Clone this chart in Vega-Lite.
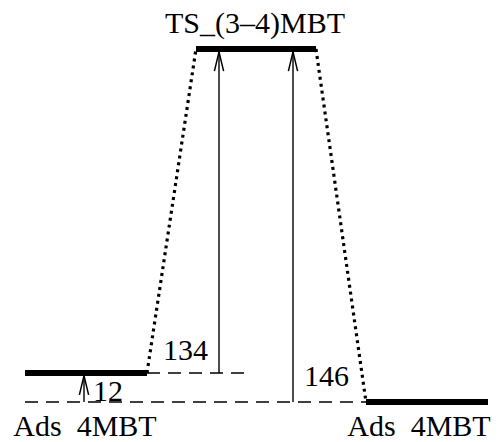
{
  "$schema": "https://vega.github.io/schema/vega-lite/v6.json",
  "width": 498,
  "height": 442,
  "autosize": {"type": "fit", "contains": "padding"},
  "padding": 0,
  "background": "white",
  "config": {"view": {"stroke": null}},
  "datasets": {
    "levels": [
      {"name": "Ads 4MBT (left)", "xs": 25, "xe": 147, "E": 12},
      {"name": "TS_(3–4)MBT", "xs": 196, "xe": 316, "E": 146},
      {"name": "Ads 4MBT (right)", "xs": 366, "xe": 488, "E": 0}
    ],
    "guides": [
      {"xs": 25, "xe": 366, "E": 0},
      {"xs": 147, "xe": 246, "E": 12}
    ],
    "connectors": [
      {"xs": 147, "Es": 12, "xe": 196, "Ee": 146},
      {"xs": 316, "Es": 146, "xe": 366, "Ee": 0}
    ],
    "arrows": [
      {"x": 84, "from": 0, "to": 12},
      {"x": 219, "from": 12, "to": 146},
      {"x": 293, "from": 0, "to": 146}
    ],
    "numbers": [
      {"text": "12", "x": 93, "E": 0.2},
      {"text": "134", "x": 163, "E": 17.2},
      {"text": "146", "x": 304, "E": 6.6}
    ],
    "names": [
      {"text": "Ads\u00a0\u00a04MBT", "x": 85, "E": -14.0},
      {"text": "Ads\u00a0\u00a04MBT", "x": 419, "E": -14.0},
      {"text": "TS_(3–4)MBT", "x": 255, "E": 152.8}
    ]
  },
  "layer": [
    {
      "data": {"name": "guides"},
      "mark": {"type": "rule", "stroke": "black", "strokeWidth": 1.5, "strokeDash": [13, 8]},
      "encoding": {
        "x": {"field": "xs", "type": "quantitative", "scale": {"domain": [0, 498], "nice": false, "zero": false}, "axis": null},
        "x2": {"field": "xe"},
        "y": {"field": "E", "type": "quantitative", "scale": {"domain": [-14.5, 166.3], "nice": false, "zero": false}, "axis": null}
      }
    },
    {
      "data": {"name": "connectors"},
      "mark": {"type": "rule", "stroke": "black", "strokeWidth": 3.2, "strokeDash": [3, 4]},
      "encoding": {
        "x": {"field": "xs", "type": "quantitative", "scale": {"domain": [0, 498], "nice": false, "zero": false}, "axis": null},
        "x2": {"field": "xe"},
        "y": {"field": "Es", "type": "quantitative", "scale": {"domain": [-14.5, 166.3], "nice": false, "zero": false}, "axis": null},
        "y2": {"field": "Ee"}
      }
    },
    {
      "data": {"name": "arrows"},
      "mark": {"type": "rule", "stroke": "black", "strokeWidth": 1.4},
      "encoding": {
        "x": {"field": "x", "type": "quantitative", "scale": {"domain": [0, 498], "nice": false, "zero": false}, "axis": null},
        "y": {"field": "from", "type": "quantitative", "scale": {"domain": [-14.5, 166.3], "nice": false, "zero": false}, "axis": null},
        "y2": {"field": "to"}
      }
    },
    {
      "data": {"name": "arrows"},
      "mark": {"type": "point", "shape": "M-0.42,2L0,0.25L0.42,2", "filled": false, "stroke": "black", "strokeWidth": 1.5, "size": 484, "opacity": 1},
      "encoding": {
        "x": {"field": "x", "type": "quantitative", "scale": {"domain": [0, 498], "nice": false, "zero": false}, "axis": null},
        "y": {"field": "to", "type": "quantitative", "scale": {"domain": [-14.5, 166.3], "nice": false, "zero": false}, "axis": null}
      }
    },
    {
      "data": {"name": "levels"},
      "mark": {"type": "rule", "stroke": "black", "strokeWidth": 6, "strokeCap": "butt"},
      "encoding": {
        "x": {"field": "xs", "type": "quantitative", "scale": {"domain": [0, 498], "nice": false, "zero": false}, "axis": null},
        "x2": {"field": "xe"},
        "y": {"field": "E", "type": "quantitative", "scale": {"domain": [-14.5, 166.3], "nice": false, "zero": false}, "axis": null}
      }
    },
    {
      "data": {"name": "numbers"},
      "mark": {"type": "text", "font": "Liberation Serif", "fontSize": 30, "color": "black", "baseline": "alphabetic", "align": "left"},
      "encoding": {
        "x": {"field": "x", "type": "quantitative", "scale": {"domain": [0, 498], "nice": false, "zero": false}, "axis": null},
        "y": {"field": "E", "type": "quantitative", "scale": {"domain": [-14.5, 166.3], "nice": false, "zero": false}, "axis": null},
        "text": {"field": "text"}
      }
    },
    {
      "data": {"name": "names"},
      "mark": {"type": "text", "font": "Liberation Serif", "fontSize": 30, "color": "black", "baseline": "alphabetic", "align": "center"},
      "encoding": {
        "x": {"field": "x", "type": "quantitative", "scale": {"domain": [0, 498], "nice": false, "zero": false}, "axis": null},
        "y": {"field": "E", "type": "quantitative", "scale": {"domain": [-14.5, 166.3], "nice": false, "zero": false}, "axis": null},
        "text": {"field": "text"}
      }
    }
  ]
}
